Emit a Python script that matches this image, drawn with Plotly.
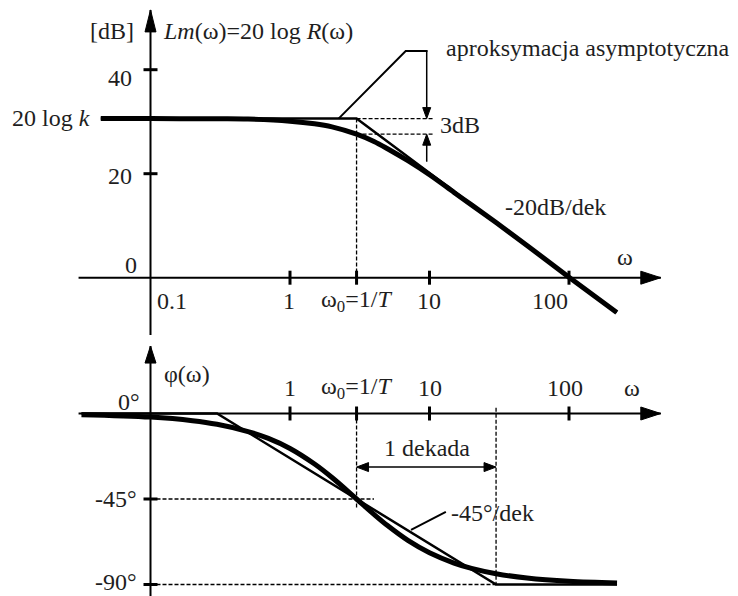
import numpy as np
import plotly.graph_objects as go

# ---------------- data ----------------
omega0 = 3.0          # corner frequency  w0 = 1/T
k_db = 30.6           # 20 log k
db_drop = 3.0         # 3 dB at the corner

omega_lm = [0.044, 0.1, 0.3, 0.5, 1, 1.5, 2, 3, 4, 5, 7, 10, 15, 20, 30, 50, 100, 220]
lm_db = [30.6, 30.6, 30.55, 30.5, 30.1, 29.6, 29.0, 27.6, 26.2, 24.8, 22.5, 19.8,
         16.4, 14.0, 10.6, 6.2, 0.1, -6.7]

omega_lm_asym = [0.044, 3, 220]
lm_asym_db = [30.6, 30.6, -6.7]

omega_ph = [0.032, 0.1, 0.2, 0.3, 0.5, 0.7, 1, 1.5, 2, 3, 4, 5, 7, 10, 15, 20, 30,
            50, 100, 221]
phase_deg = [-0.6, -1.9, -3.8, -5.7, -9.5, -13.1, -18.4, -26.6, -33.7, -45.0, -53.1,
             -59.0, -66.8, -73.3, -78.7, -81.5, -84.3, -86.6, -88.3, -89.2]

omega_ph_asym = [0.032, 0.3, 30, 221]
phase_asym_deg = [0, 0, -90, -90]

x_tick_vals = [1, 3, 10, 100]
x_tick_text = ["1", "ω<sub>0</sub>=1/<i>T</i>", "10", "100"]
db_tick_vals = [20, 40]
db_tick_text = ["20", "40"]
deg_tick_vals = [-45, -90]
deg_tick_text = ["-45°", "-90°"]

# axis extents
w_axis_min, w_axis_max = 0.0305, 455.0
db_axis_min, db_axis_max = -11.0, 51.5
deg_axis_min, deg_axis_max = -97.0, 35.5
w_y_axis = 0.1

# ---------------- figure ----------------
OFF = 8                      # page body margin of the html page
W, H = 738, 596              # window size
FW, FH = W - OFF, H - OFF    # figure size
INK = "#000000"
TXT = "#1e1e1e"
FONT = "Liberation Serif, Times New Roman, serif"
FS = 24

fig = go.Figure()


def line(x, y, yaxis="y", width=2.0, dash="solid", shape="linear"):
    fig.add_trace(go.Scatter(x=x, y=y, yaxis=yaxis, mode="lines",
                             line=dict(color=INK, width=width, dash=dash, shape=shape),
                             hoverinfo="skip", showlegend=False))


def ticks(x, y, symbol, yaxis="y", size=10):
    fig.add_trace(go.Scatter(x=x, y=y, yaxis=yaxis, mode="markers",
                             marker=dict(symbol=symbol, size=size,
                                         line=dict(color=INK, width=3)),
                             hoverinfo="skip", showlegend=False))


shapes = []


def head(x, y, direction, length, width, yref="y"):
    l, w = length, width / 2
    paths = {
        "up": f"M0,0 L{-w},{-l} L{w},{-l} Z",
        "down": f"M0,0 L{-w},{l} L{w},{l} Z",
        "right": f"M0,0 L{-l},{w} L{-l},{-w} Z",
        "left": f"M0,0 L{l},{w} L{l},{-w} Z",
    }
    shapes.append(dict(type="path", xref="x", yref=yref, xsizemode="pixel",
                       ysizemode="pixel", xanchor=x, yanchor=y,
                       path=paths[direction], fillcolor=INK,
                       line=dict(color=INK, width=1)))


# ---- magnitude plot ----
line([w_axis_min, w_axis_max], [0, 0], width=2)
line([w_y_axis, w_y_axis], [db_axis_min, db_axis_max], width=2)
head(w_axis_max, 0, "right", 20, 13)
head(w_y_axis, db_axis_max, "up", 22, 11)
ticks(x_tick_vals, [0] * len(x_tick_vals), "line-ns")
ticks([w_y_axis] * len(db_tick_vals), db_tick_vals, "line-ew")

# dashed helpers
line([omega0, omega0], [k_db, 0], width=1.3, dash="4px,2px")
line([omega0, 10.7], [k_db, k_db], width=1.3, dash="4px,2px")
line([omega0, 10.7], [k_db - db_drop, k_db - db_drop], width=1.3, dash="4px,2px")
# 3 dB arrows
line([9.55, 9.55], [43.5, k_db + 0.6], width=1.5)
head(9.55, k_db, "down", 11, 8)
line([9.55, 9.55], [22.3, k_db - db_drop - 0.6], width=1.5)
head(9.55, k_db - db_drop, "up", 11, 8)
# leader for "aproksymacja asymptotyczna"
line([2.23, 6.75, 9.7], [k_db, 43.6, 43.6], width=2)

# curves
line(omega_lm_asym, lm_asym_db, width=2.5)
line(omega_lm, lm_db, width=5, shape="spline")

# ---- phase plot ----
line([w_axis_min, w_axis_max], [0, 0], yaxis="y2", width=2)
line([w_y_axis, w_y_axis], [deg_axis_min, deg_axis_max], yaxis="y2", width=2)
head(w_axis_max, 0, "right", 20, 13, yref="y2")
head(w_y_axis, deg_axis_max, "up", 17, 11, yref="y2")
ticks(x_tick_vals, [0] * len(x_tick_vals), "line-ns", yaxis="y2")
ticks([w_y_axis] * len(deg_tick_vals), deg_tick_vals, "line-ew", yaxis="y2")

line([w_y_axis, 4.0], [-45, -45], yaxis="y2", width=1.3, dash="4px,2px")
line([w_y_axis, 30], [-90, -90], yaxis="y2", width=1.3, dash="4px,2px")
line([omega0, omega0], [0, -50], yaxis="y2", width=1.3, dash="4px,2px")
line([30, 30], [3, -90], yaxis="y2", width=1.3, dash="4px,2px")
# 1 dekada arrow
line([omega0 * 1.06, 30 / 1.06], [-28.2, -28.2], yaxis="y2", width=1.5)
head(omega0, -28.2, "left", 12, 9, yref="y2")
head(30, -28.2, "right", 12, 9, yref="y2")
# leader for -45°/dek
line([7.37, 13.1], [-61.3, -51.8], yaxis="y2", width=2)

line(omega_ph_asym, phase_asym_deg, yaxis="y2", width=2.5)
line(omega_ph, phase_deg, yaxis="y2", width=5, shape="spline")

# ---------------- text ----------------
ann = []


def px(x, y, text, xanchor="center", yanchor="middle", size=FS):
    # x, y: position in the window's pixels
    ann.append(dict(x=(x - OFF) / FW, y=1 - (y - OFF) / FH, xref="paper", yref="paper",
                    text=text, showarrow=False, xanchor=xanchor, yanchor=yanchor,
                    font=dict(family=FONT, size=size, color=TXT)))


# magnitude
px(112, 31, "[dB]")
px(161, 31, "<i>Lm</i>(ω)=20 log <i>R</i>(ω)", xanchor="left")
px(134, 78, db_tick_text[1], xanchor="right")
px(134, 176, db_tick_text[0], xanchor="right")
px(139, 265, "0", xanchor="right")
px(92, 118, "20 log <i>k</i>", xanchor="right")
px(172, 301, "0.1")
top_label_x = [289, 356, 429, 550]
for lx, t in zip(top_label_x, x_tick_text):
    px(lx, 301, t)
px(625, 257, "ω")
px(555, 207, "-20dB/dek")
px(460, 125, "3dB")
px(444, 48, "aproksymacja asymptotyczna", xanchor="left")

# phase
px(162, 374, "φ(ω)", xanchor="left")
px(129, 402, "0°")
px(139, 499, deg_tick_text[0], xanchor="right")
px(139, 582, deg_tick_text[1], xanchor="right")
bot_label_x = [290, 356, 430, 565]
for lx, t in zip(bot_label_x, x_tick_text):
    px(lx, 388, t)
px(632, 388, "ω")
px(427, 448, "1 dekada")
px(449, 513, "-45°/dek", xanchor="left")

# ---------------- layout / scales ----------------
x_px_one, x_px_dec = 290.0, 139.5      # window pixel of w=1, pixels per decade
db0_px, db_px = 277.7, 5.2              # window pixel of 0 dB, pixels per dB
deg0_px, deg_px = 413.5, 1.9            # window pixel of 0 deg, pixels per deg

fig.update_layout(
    width=FW, height=FH, autosize=False,
    margin=dict(l=0, r=0, t=0, b=0, pad=0),
    paper_bgcolor="white", plot_bgcolor="white",
    showlegend=False,
    xaxis=dict(type="log", visible=False, domain=[0, 1],
               range=[(OFF - x_px_one) / x_px_dec, (W - x_px_one) / x_px_dec]),
    yaxis=dict(visible=False, domain=[0, 1],
               range=[(db0_px - H) / db_px, (db0_px - OFF) / db_px]),
    yaxis2=dict(visible=False, domain=[0, 1], overlaying="y",
                range=[(deg0_px - H) / deg_px, (deg0_px - OFF) / deg_px]),
    shapes=shapes,
    annotations=ann,
)

fig.write_html("out.html")
